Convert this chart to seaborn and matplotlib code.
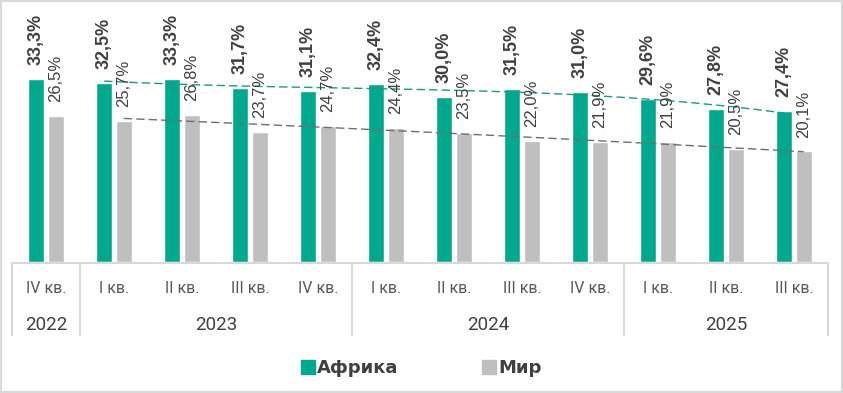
import numpy as np
import pandas as pd
import matplotlib.pyplot as plt
import matplotlib.transforms as mtransforms
from matplotlib.lines import Line2D
from matplotlib.patches import Rectangle
import seaborn as sns

sns.set_style("white")

# data
quarters = ["IV кв.", "I кв.", "II кв.", "III кв.", "IV кв.", "I кв.", "II кв.",
            "III кв.", "IV кв.", "I кв.", "II кв.", "III кв."]
years = ["2022", "2023", "2024", "2025"]
year_spans = [(0, 0), (1, 4), (5, 8), (9, 11)]
africa = [33.3, 32.5, 33.3, 31.7, 31.1, 32.4, 30.0, 31.5, 31.0, 29.6, 27.8, 27.4]
world = [26.5, 25.7, 26.8, 23.7, 24.7, 24.4, 23.5, 22.0, 21.9, 21.9, 20.5, 20.1]
series = ["Африка", "Мир"]

GREEN = "#00A88E"
GREY = "#BFBFBF"
LINE = "#D9D9D9"
TXT = "#404040"

n = len(quarters)
df = pd.DataFrame({
    "idx": list(range(n)) * 2,
    "value": africa + world,
    "series": [series[0]] * n + [series[1]] * n,
})

fig = plt.figure(figsize=(8.43, 3.93), dpi=100)
ax = fig.add_axes([12 / 843, 131 / 393, 816 / 843, 252 / 393])

sns.barplot(data=df, x="idx", y="value", hue="series", palette=[GREEN, GREY],
            width=0.574, gap=0.18, saturation=1, legend=False, ax=ax)

ax.set_xlim(-0.5, n - 0.5)
ax.set_ylim(0, 252 / 5.5)
for s in ax.spines.values():
    s.set_visible(False)
ax.set_yticks([])
ax.set_xlabel("")
ax.set_ylabel("")

fmt = lambda v: f"{v:.1f}%".replace(".", ",")
ax.bar_label(ax.containers[0], labels=[fmt(v) for v in africa], rotation=90,
             padding=10, fontsize=13, fontweight="bold", color=TXT,
             family="Liberation Sans")
ax.bar_label(ax.containers[1], labels=[fmt(v) for v in world], rotation=90,
             padding=10, fontsize=12, color=TXT, family="Liberation Sans")

# polynomial trend lines (I кв. 2023 onwards)
off = 0.287 / 2
x = np.arange(1, n)
xs = np.linspace(1, n - 1, 200)
pa = np.polyfit(x, africa[1:], 3)
pw = np.polyfit(x, world[1:], 2)
ax.plot(xs - off, np.polyval(pa, xs), ls=(0, (6, 3)), lw=1, color="#1A9A85")
ax.plot(xs + off, np.polyval(pw, xs), ls=(0, (6, 3)), lw=1, color="#6E6E6E")

# category table under the axis
ax.set_xticks(range(n))
ax.set_xticklabels(quarters, fontsize=11.5, color="#595959", family="Roboto")
ax.tick_params(axis="x", length=0, pad=14)

tr = mtransforms.blended_transform_factory(ax.transData, ax.transAxes)
py = 1 / 252  # one pixel in axes fraction
ax.plot([-0.5, n - 0.5], [-1 * py, -1 * py], color=LINE, lw=1.5,
        transform=tr, clip_on=False)
bounds = [-0.5, 0.5, 4.5, 8.5, 11.5]
for b in bounds:
    ax.plot([b, b], [-1 * py, -73 * py], color=LINE, lw=1.5,
            transform=tr, clip_on=False)
for yr, (a, b) in zip(years, year_spans):
    ax.text((a + b) / 2, -63 * py, yr, transform=tr, ha="center", va="center",
            fontsize=13.5, color="#404040", family="Roboto")

# legend
handles = [Line2D([], [], marker="s", ls="", markersize=9.5, color=c)
           for c in (GREEN, GREY)]
leg = fig.legend(handles, series, loc="center", bbox_to_anchor=(0.5, 1 - 368 / 393),
                 ncol=2, frameon=False, handletextpad=0.15, columnspacing=4.7,
                 handlelength=0.7,
                 prop={"family": "DejaVu Sans", "weight": "bold", "size": 13})
for t in leg.get_texts():
    t.set_color(TXT)

fig.patches.append(Rectangle((0, 0), 1, 1, transform=fig.transFigure,
                             fill=False, edgecolor=LINE, lw=3))

fig.savefig("out.png", dpi=100)
